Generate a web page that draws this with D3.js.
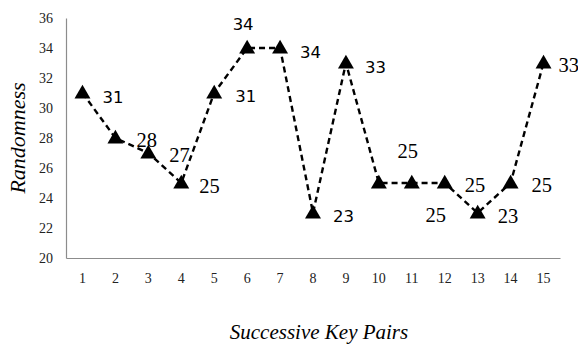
<!DOCTYPE html>
<html>
  <meta charset="utf-8" />
  <head>
    <title>Randomness</title>
    <script src="https://d3js.org/d3.v7.min.js"></script>
  </head>
  <style>
  body { margin: 0; background: #fff; }
  .serif { font-family: "Liberation Serif", "Times New Roman", serif; }
  .sans { font-family: "DejaVu Sans", Verdana, sans-serif; }
  </style>
  <body>
    <svg width="578" height="347"></svg>
    <script>
      // chart data
      var pairs = [1, 2, 3, 4, 5, 6, 7, 8, 9, 10, 11, 12, 13, 14, 15];
      var randomness = [31, 28, 27, 25, 31, 34, 34, 23, 33, 25, 25, 25, 23, 25, 33];
      var yTicks = [20, 22, 24, 26, 28, 30, 32, 34, 36];

      // label placement (offset from its point) and font, as in the original figure
      var labelDx = [20, 21, 21, 18, 21, -4, 20, 20, 19, 57, -4, 20, 20, 21, 15];
      var labelDy = [10, 9, 9, 10, 9, -18, 10, 9, 10, 39, -25, 9, 10, 9, 9];
      var labelSans = [1, 0, 0, 0, 1, 1, 1, 1, 1, 0, 0, 0, 0, 0, 0];

      var svg = d3.select("svg"),
        margin = {top: 18, right: 18, bottom: 89, left: 66},
        width = +svg.attr("width") - margin.left - margin.right,
        height = +svg.attr("height") - margin.top - margin.bottom,
        g = svg.append("g").attr("transform", "translate(" + margin.left + "," + margin.top + ")");

      var x = d3.scaleBand()
        .domain(pairs)
        .range([0, width]);

      var y = d3.scaleLinear()
        .domain([20, 36])
        .range([height, 0]);

      var data = pairs.map(function(p, i) { return {k: p, v: randomness[i], i: i}; });
      var cx = function(d) { return x(d.k) + x.bandwidth() / 2; };

      // axes
      var xAxis = g.append("g")
        .attr("transform", "translate(0," + height + ")")
        .call(d3.axisBottom(x).tickSize(0).tickPadding(12));
      var yAxis = g.append("g")
        .call(d3.axisLeft(y).tickValues(yTicks).tickSize(0).tickPadding(13));

      [xAxis, yAxis].forEach(function(a) {
        a.attr("font-family", null);
        a.select(".domain").attr("stroke", "#8c8c8c").attr("stroke-width", 1.2);
        a.selectAll("text")
          .attr("class", "serif")
          .attr("font-size", 14)
          .attr("fill", "#222");
      });
      xAxis.selectAll("text").attr("dy", "0.9em");

      // dashed line
      var line = d3.line().x(cx).y(function(d) { return y(d.v); });
      g.append("path")
        .datum(data)
        .attr("d", line)
        .attr("fill", "none")
        .attr("stroke", "#000")
        .attr("stroke-width", 2.4)
        .attr("stroke-dasharray", "6,4");

      // triangle markers
      var tri = d3.symbol().type(d3.symbolTriangle).size(110);
      g.selectAll(".pt")
        .data(data)
        .enter().append("path")
          .attr("class", "pt")
          .attr("d", tri)
          .attr("transform", function(d) { return "translate(" + cx(d) + "," + (y(d.v) + 1) + ")"; })
          .attr("fill", "#000");

      // value labels
      g.selectAll(".lbl")
        .data(data)
        .enter().append("text")
          .attr("class", function(d) { return labelSans[d.i] ? "lbl sans" : "lbl serif"; })
          .attr("x", function(d) { return cx(d) + labelDx[d.i]; })
          .attr("y", function(d) { return y(d.v) + labelDy[d.i]; })
          .attr("text-anchor", function(d) { return labelDx[d.i] < 0 || labelDx[d.i] > 40 ? "middle" : "start"; })
          .attr("font-size", function(d) { return labelSans[d.i] ? 16.5 : 20.5; })
          .attr("fill", "#000")
          .text(function(d) { return d.v; });

      // axis titles
      svg.append("text")
        .attr("class", "serif")
        .attr("transform", "translate(25," + (margin.top + height / 2) + ") rotate(-90)")
        .attr("text-anchor", "middle")
        .attr("font-style", "italic")
        .attr("font-size", 22)
        .text("Randomness");

      svg.append("text")
        .attr("class", "serif")
        .attr("x", margin.left + width / 2 + 6)
        .attr("y", 339)
        .attr("text-anchor", "middle")
        .attr("font-style", "italic")
        .attr("font-size", 21)
        .text("Successive Key Pairs");
    </script>
  </body>
</html>
